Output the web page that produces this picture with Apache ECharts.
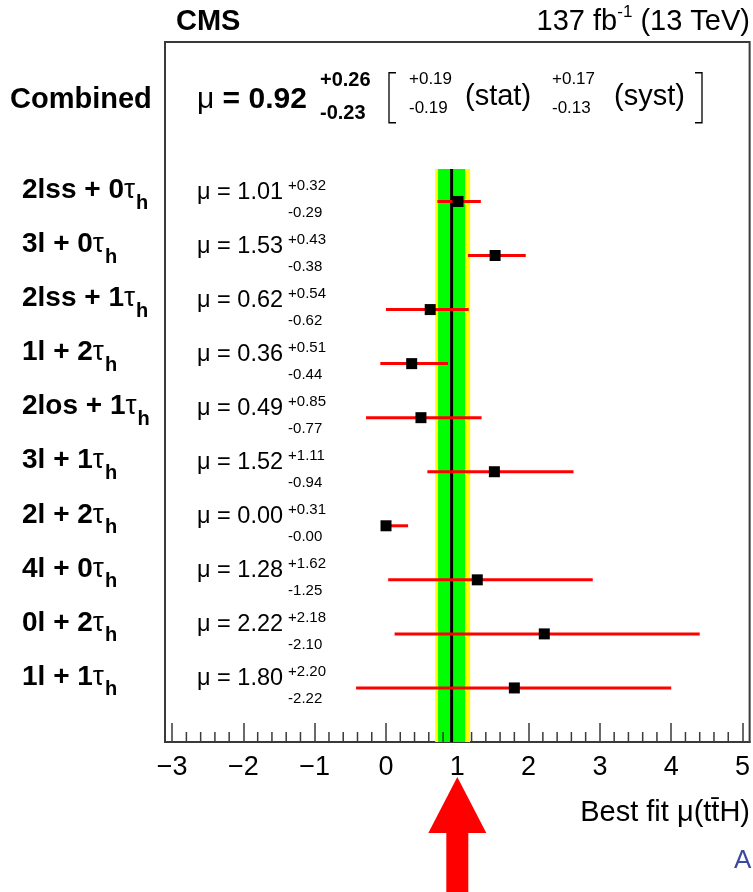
<!DOCTYPE html>
<html>
<head>
<meta charset="utf-8">
<script src="https://cdn.jsdelivr.net/npm/echarts@6/dist/echarts.min.js"></script>
<style>
  html, body { margin: 0; padding: 0; background: #ffffff; }
  #chart { width: 753px; height: 892px; }
</style>
</head>
<body>
<div id="chart"></div>
<script>
// ttH multilepton channels: best-fit signal strength with asymmetric uncertainties
const channels = ['2lss + 0τh', '3l + 0τh', '2lss + 1τh', '1l + 2τh', '2los + 1τh',
                  '3l + 1τh', '2l + 2τh', '4l + 0τh', '0l + 2τh', '1l + 1τh'];
const muValues = [1.01, 1.53, 0.62, 0.36, 0.49, 1.52, 0.00, 1.28, 2.22, 1.80];
const errUp    = [0.32, 0.43, 0.54, 0.51, 0.85, 1.11, 0.31, 1.62, 2.18, 2.20];
const errDown  = [0.29, 0.38, 0.62, 0.44, 0.77, 0.94, 0.00, 1.25, 2.10, 2.22];

// combined result: total, statistical and systematic parts
const combinedMu = 0.92;
const combinedTotal = [0.26, 0.23];   // [+up, -down]
const combinedStat  = [0.19, 0.19];
const combinedSyst  = [0.17, 0.13];

const xTickValues = [-3, -2, -1, 0, 1, 2, 3, 4, 5];
const xMinorTicks = [];
for (let k = -3; k < 5; k++) {
  for (let m = 1; m <= 4; m++) xMinorTicks.push(+(k + m * 0.2).toFixed(1));
}

const FONT = '"Liberation Sans", Arial, Helvetica, sans-serif';
const measureCtx = document.createElement('canvas').getContext('2d');
function textWidth(t, size, weight) {
  measureCtx.font = (weight || 'normal') + ' ' + size + 'px ' + FONT;
  return measureCtx.measureText(t).width;
}
function txt(x, y, text, size, weight, align, color) {
  return {
    type: 'text', x: x, y: y, silent: true,
    style: {
      text: text, fill: color || '#000', fontSize: size, fontWeight: weight || 'normal',
      fontFamily: FONT, align: align || 'left', verticalAlign: 'middle'
    }
  };
}
const fmt = v => (v < 0 ? '\u2212' + (-v) : String(v));
const pm = v => v.toFixed(2);

const ROW_TOP = -0.6;      // band start, in row units
const Y_MAX = 10;
const COMBINED_ROW = -1.9;
const AXIS_COLOR = '#3a3a3a';

const chart = echarts.init(document.getElementById('chart'), null, { renderer: 'canvas' });

// channel rows: error bar, marker, channel name and value text
function renderChannel(params, api) {
  const i = params.dataIndex;
  const row = api.value(0);
  const p = api.coord([api.value(1), row]);
  const lo = api.coord([api.value(2), row]);
  const hi = api.coord([api.value(3), row]);
  const ry = p[1];
  const name = channels[i];
  const head = name.slice(0, -2);            // e.g. "2lss + 0"
  const w1 = textWidth(head, 28, 'bold');
  const wt = textWidth('τ', 28, 'normal');
  const muText = 'μ = ' + muValues[i].toFixed(2);
  const wm = textWidth(muText, 23.5, 'normal');
  return {
    type: 'group',
    children: [
      { type: 'line', shape: { x1: lo[0], y1: ry, x2: hi[0], y2: ry },
        style: { stroke: '#ff0000', lineWidth: 3 } },
      { type: 'rect', shape: { x: p[0] - 5.5, y: ry - 5.5, width: 11, height: 11 },
        style: { fill: '#000000' } },
      txt(22, ry - 11, head, 28, 'bold'),
      txt(22 + w1, ry - 11, 'τ', 28, 'normal'),
      txt(22 + w1 + wt + 1, ry + 2, 'h', 20, 'bold'),
      txt(197, ry - 9, muText, 23.5, 'normal'),
      txt(197 + wm + 5, ry - 16, '+' + pm(errUp[i]), 15, 'normal'),
      txt(197 + wm + 5, ry + 11, '-' + pm(errDown[i]), 15, 'normal')
    ]
  };
}

// uncertainty bands of the combined fit
function renderBand(params, api) {
  const a = api.coord([api.value(0), ROW_TOP]);
  const b = api.coord([api.value(1), Y_MAX]);
  return {
    type: 'rect',
    shape: { x: a[0], y: a[1], width: b[0] - a[0], height: b[1] - a[1] },
    style: { fill: api.value(2) === 0 ? '#ffff00' : '#00ff00' }
  };
}

// minor ticks on the bottom axis, pointing into the frame
function renderMinorTick(params, api) {
  const p = api.coord([api.value(0), Y_MAX]);
  return {
    type: 'line',
    shape: { x1: p[0], y1: p[1], x2: p[0], y2: p[1] - 10 },
    style: { stroke: AXIS_COLOR, lineWidth: 1.5 }
  };
}

const bandData = [
  [combinedMu - combinedTotal[1], combinedMu + combinedTotal[0], 0],
  [combinedMu - combinedStat[1], combinedMu + combinedStat[0], 1]
];

const option = {
  animation: false,
  backgroundColor: '#ffffff',
  grid: {
    left: 165, top: 42, width: 585, height: 700, show: true,
    borderColor: AXIS_COLOR, borderWidth: 2, backgroundColor: 'transparent'
  },
  xAxis: {
    type: 'value', min: -3.1, max: 5.1,
    splitLine: { show: false },
    axisLine: { show: true, onZero: false, lineStyle: { color: AXIS_COLOR, width: 2 } },
    axisTick: { show: true, inside: true, length: 19, customValues: xTickValues,
                lineStyle: { color: AXIS_COLOR, width: 1.5 } },
    axisLabel: { show: true, customValues: xTickValues, margin: 12, color: '#000',
                 fontSize: 27, fontFamily: FONT, formatter: fmt }
  },
  yAxis: {
    type: 'value', min: -2.95, max: Y_MAX, inverse: true,
    axisLine: { show: false }, axisTick: { show: false },
    axisLabel: { show: false }, splitLine: { show: false }
  },
  series: [
    {
      type: 'custom', name: 'bands', renderItem: renderBand,
      data: bandData, encode: { x: [0, 1] }, z: 1, silent: true
    },
    {
      type: 'line', name: 'central', symbol: 'none', silent: true, z: 2,
      data: [[combinedMu, ROW_TOP], [combinedMu, Y_MAX]],
      lineStyle: { color: '#000000', width: 3 }
    },
    {
      type: 'custom', name: 'minorTicks', renderItem: renderMinorTick, z: 2, silent: true,
      data: xMinorTicks.map(v => [v]), encode: { x: 0 }
    },
    {
      type: 'custom', name: 'channels', renderItem: renderChannel, z: 3,
      clip: false, silent: true,
      data: channels.map((c, i) => [i, muValues[i], muValues[i] - errDown[i], muValues[i] + errUp[i]]),
      encode: { y: 0, x: [1, 2, 3] }
    }
  ]
};
chart.setOption(option);

// header, combined result line, axis title and annotations
const cy = chart.convertToPixel({ yAxisIndex: 0 }, COMBINED_ROW);
const xOne = chart.convertToPixel({ xAxisIndex: 0 }, 1);

const muW = textWidth('μ', 30, 'normal');
const lumiTail = ' (13 TeV)';
const lumiTailW = textWidth(lumiTail, 29, 'normal');
const supW = textWidth('-1', 17, 'normal');
const lumiHeadW = textWidth('137 fb', 29, 'normal');

function bracket(x, dir) {
  return {
    type: 'polyline', silent: true,
    shape: { points: [[x + 7 * dir, cy - 26], [x, cy - 26], [x, cy + 24], [x + 7 * dir, cy + 24]] },
    style: { stroke: '#000', lineWidth: 1.3, fill: null }
  };
}

const graphics = [
  txt(176, 22, 'CMS', 29, 'bold'),
  txt(750 - lumiTailW, 22, lumiTail, 29, 'normal'),
  txt(750 - lumiTailW - supW, 12, '-1', 17, 'normal'),
  txt(750 - lumiTailW - supW - lumiHeadW, 22, '137 fb', 29, 'normal'),

  txt(10, cy + 1, 'Combined', 29, 'bold'),
  txt(197, cy + 1, 'μ', 30, 'normal'),
  txt(197 + muW, cy + 1, ' = ' + combinedMu.toFixed(2), 30, 'bold'),
  txt(320, cy - 18, '+' + pm(combinedTotal[0]), 20, 'bold'),
  txt(320, cy + 15, '-' + pm(combinedTotal[1]), 20, 'bold'),
  bracket(389, 1),
  txt(409, cy - 19, '+' + pm(combinedStat[0]), 17, 'normal'),
  txt(409, cy + 10, '-' + pm(combinedStat[1]), 17, 'normal'),
  txt(465, cy - 2, '(stat)', 29, 'normal'),
  txt(552, cy - 19, '+' + pm(combinedSyst[0]), 17, 'normal'),
  txt(552, cy + 10, '-' + pm(combinedSyst[1]), 17, 'normal'),
  txt(614, cy - 2, '(syst)', 29, 'normal'),
  bracket(702, -1),

  txt(750, 813, 'Best fit μ(tt\u0304H)', 29, 'normal', 'right'),
  txt(734, 861, 'A', 26, 'normal', 'left', '#3b4a9c'),

  // red arrow pointing at mu = 1
  {
    type: 'polygon', silent: true,
    shape: { points: [[xOne, 777], [xOne + 29, 833], [xOne - 29, 833]] },
    style: { fill: '#ff0000' }
  },
  {
    type: 'rect', silent: true,
    shape: { x: xOne - 11, y: 832, width: 22, height: 70 },
    style: { fill: '#ff0000' }
  }
];
chart.setOption({ graphic: graphics });
</script>
</body>
</html>
